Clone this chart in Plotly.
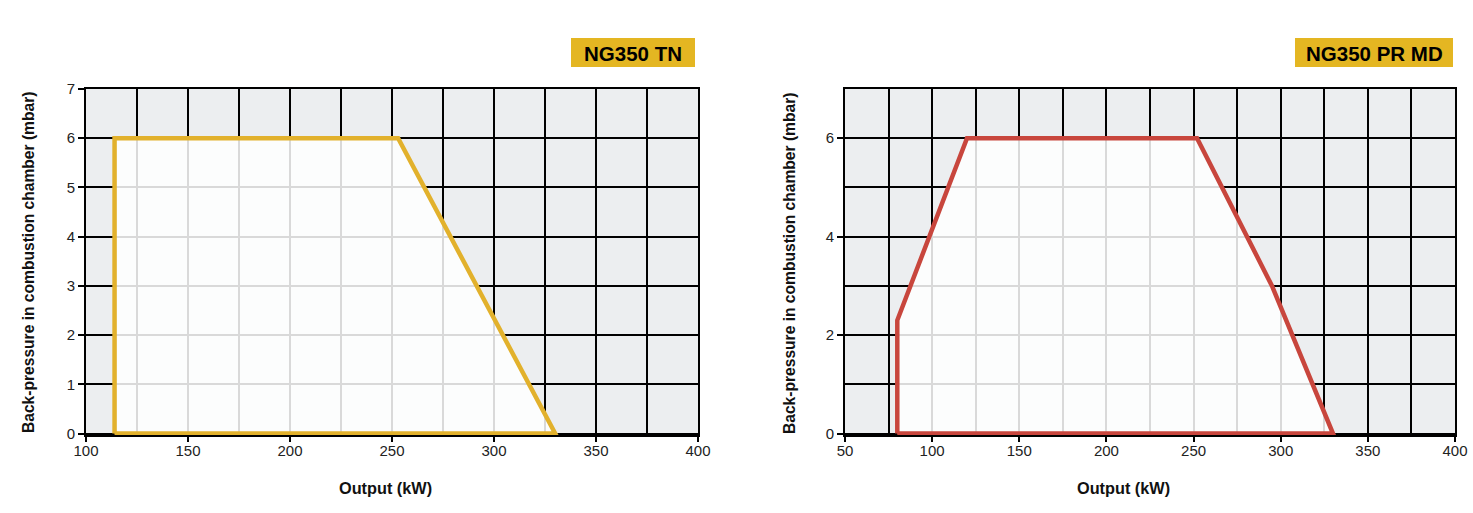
import plotly.graph_objects as go

# operating envelopes (kW, mbar)
tn_output = [114, 114, 253, 330, 114]
tn_pressure = [0, 6, 6, 0, 0]

prmd_output = [80, 80, 120, 252, 295, 330, 80]
prmd_pressure = [0, 2.3, 6, 6, 3, 0, 0]

titles = ["NG350 TN", "NG350 PR MD"]
line_colors = ["#e2b12c", "#c8463d"]
x_ranges = [[100, 400], [50, 400]]
y_ticks = [1, 2]

W, H = 1473, 513
FONT = "Liberation Sans, Arial, sans-serif"
BG = "#eceef0"
GOLD = "#e4b622"


def px(v):
    return v / W


def py(v):
    return (H - v) / H


fig = go.Figure()

series = [(tn_output, tn_pressure), (prmd_output, prmd_pressure)]
for i, (xs, ys) in enumerate(series):
    ax = "" if i == 0 else "2"
    fig.add_trace(go.Scatter(
        x=xs, y=ys, mode="lines", fill="toself",
        fillcolor="rgba(255,255,255,0.85)",
        line=dict(color=line_colors[i], width=4.5),
        xaxis="x" + ax, yaxis="y" + ax,
        showlegend=False, hoverinfo="skip",
    ))

domains_x = [[px(86), px(698)], [px(845), px(1455)]]
domain_y = [py(435), py(89)]

for i in range(2):
    ax = "" if i == 0 else "2"
    fig.update_layout(**{
        "xaxis" + ax: dict(
            domain=domains_x[i], range=x_ranges[i], anchor="y" + ax,
            dtick=50, tick0=0, showgrid=True, gridcolor="black", gridwidth=1.5,
            minor=dict(dtick=25, tick0=0, showgrid=True, gridcolor="black",
                       gridwidth=1.5),
            showline=True, linecolor="black", linewidth=2, mirror=True,
            ticks="outside", ticklen=5, tickwidth=1.5, tickcolor="black",
            ticklabelstandoff=-4, ticklabeloverflow="allow",
            zeroline=False, layer="below traces",
            tickfont=dict(family=FONT, size=15, color="#222"),
        ),
        "yaxis" + ax: dict(
            domain=domain_y, range=[-0.03, 7], anchor="x" + ax,
            dtick=y_ticks[i], tick0=0, showgrid=True, gridcolor="black",
            gridwidth=1.5,
            minor=dict(dtick=1, tick0=0, showgrid=True, gridcolor="black",
                       gridwidth=1.5),
            showline=True, linecolor="black", linewidth=2, mirror=True,
            ticks="outside", ticklen=6, tickwidth=1.5, tickcolor="black",
            zeroline=False, layer="below traces",
            tickfont=dict(family=FONT, size=15, color="#222"),
        ),
    })

shapes = []
annotations = []
boxes = [(571, 695), (1295, 1453)]
for i, (x0, x1) in enumerate(boxes):
    shapes.append(dict(type="rect", xref="paper", yref="paper",
                       x0=px(x0), x1=px(x1), y0=py(67), y1=py(38),
                       fillcolor=GOLD, line=dict(width=0), layer="below"))
    annotations.append(dict(text="<b>%s</b>" % titles[i], xref="paper",
                            yref="paper", x=px((x0 + x1) / 2), y=py(53),
                            showarrow=False, xanchor="center", yanchor="middle",
                            font=dict(family=FONT, size=20.5, color="black")))

for i, (xl, xc) in enumerate([(28, 385), (789, 1123)]):
    annotations.append(dict(text="<b>Back-pressure in combustion chamber (mbar)</b>",
                            xref="paper", yref="paper", x=px(xl), y=py(263),
                            textangle=-90, showarrow=False,
                            xanchor="center", yanchor="middle",
                            font=dict(family=FONT, size=15.6, color="#111")))
    annotations.append(dict(text="<b>Output (kW)</b>", xref="paper", yref="paper",
                            x=px(xc), y=py(488), showarrow=False,
                            xanchor="center", yanchor="middle",
                            font=dict(family=FONT, size=16.3, color="#111")))

fig.update_layout(
    width=W, height=H,
    margin=dict(l=0, r=0, t=0, b=0, autoexpand=False),
    paper_bgcolor="white", plot_bgcolor=BG,
    shapes=shapes, annotations=annotations,
)

# drop the default body margin so the figure fills the window exactly
fig.write_html("out.html", config={"displayModeBar": False},
               post_script="document.body.style.margin='0';")
